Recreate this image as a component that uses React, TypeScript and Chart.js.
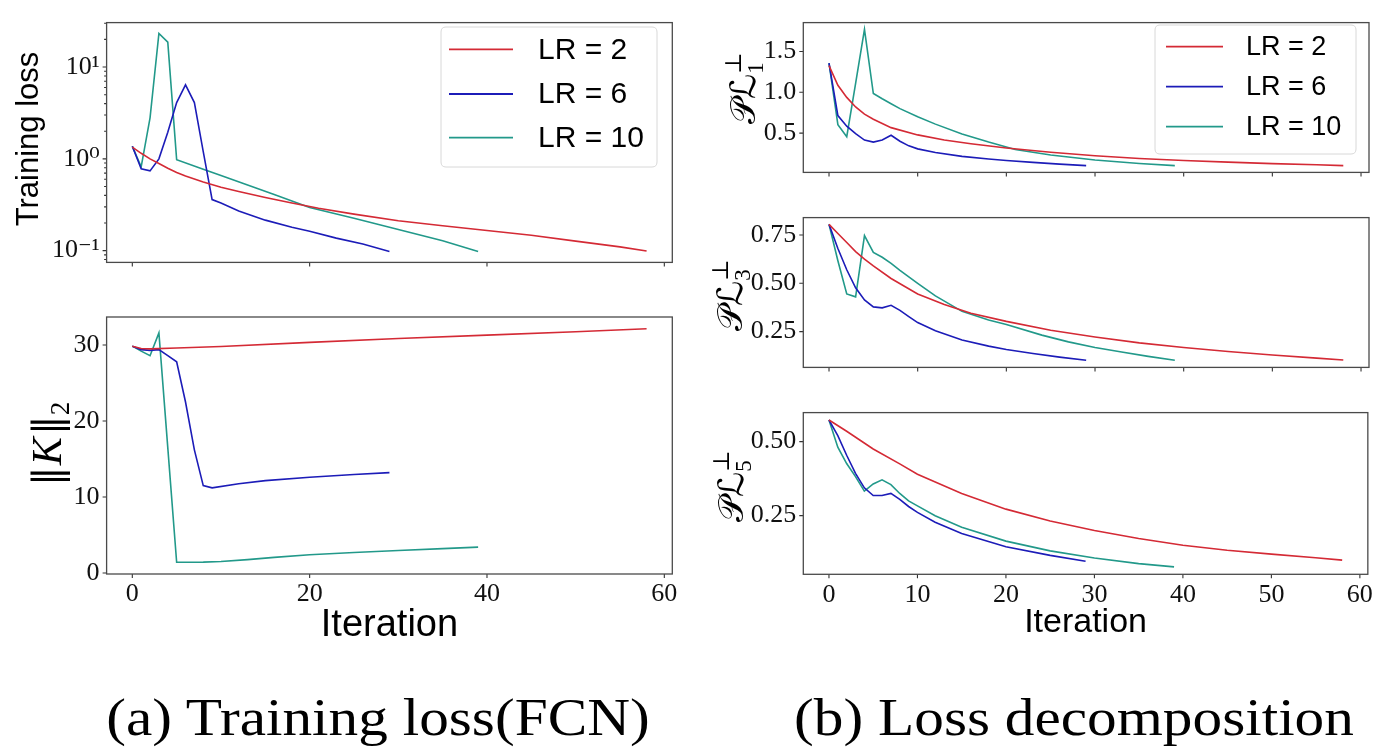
import React, { useEffect, useRef } from "react";
import { Chart, registerables } from "chart.js";
Chart.register(...registerables);

// ---------- series ----------
const seriesLabels = ["LR = 2", "LR = 6", "LR = 10"];
const seriesColors = ["#d42a35", "#1c1cb8", "#22998a"];

// (a) top: training loss (log scale)
const lossItersR = [0, 1, 2, 3, 4, 5, 6, 8, 10, 12, 15, 18, 21, 25, 30, 35, 40, 45, 50, 55, 58];
const lossR = [1.34, 1.15, 1.0, 0.89, 0.79, 0.71, 0.65, 0.56, 0.49, 0.44, 0.38, 0.33, 0.29, 0.25, 0.212, 0.187, 0.166, 0.147, 0.127, 0.11, 0.099];
const lossItersB = [0, 1, 2, 3, 4, 5, 6, 7, 8, 9, 10, 12, 15, 18, 20, 23, 26, 29];
const lossB = [1.37, 0.78, 0.74, 1.0, 1.95, 4.1, 6.4, 4.1, 1.2, 0.36, 0.33, 0.27, 0.215, 0.18, 0.163, 0.137, 0.118, 0.098];
const lossItersT = [0, 1, 2, 3, 4, 5, 8, 10, 13, 16, 20, 25, 30, 35, 39];
const lossT = [1.37, 0.82, 2.8, 23.2, 18.7, 0.98, 0.77, 0.66, 0.52, 0.41, 0.295, 0.225, 0.17, 0.128, 0.098];

// (a) bottom: ||K||_2
const normItersR = [0, 1, 2, 5, 10, 20, 30, 40, 50, 58];
const normR = [29.85, 29.55, 29.5, 29.6, 29.8, 30.35, 30.85, 31.3, 31.75, 32.15];
const normItersB = [0, 1, 2, 3, 4, 5, 6, 7, 8, 9, 12, 15, 20, 25, 29];
const normB = [29.85, 29.4, 29.3, 29.4, 28.6, 27.8, 22.5, 16.2, 11.5, 11.2, 11.75, 12.15, 12.6, 12.95, 13.2];
const normItersT = [0, 1, 2, 3, 4, 5, 8, 10, 13, 16, 20, 25, 30, 35, 39];
const normT = [29.85, 29.2, 28.6, 31.6, 16.5, 1.4, 1.42, 1.5, 1.75, 2.05, 2.4, 2.7, 2.95, 3.2, 3.4];

// (b) PL1
const p1ItersR = [0, 1, 2, 3, 4, 5, 7, 10, 13, 16, 20, 25, 30, 35, 40, 45, 50, 55, 58];
const p1R = [1.326, 1.085, 0.937, 0.82, 0.733, 0.67, 0.567, 0.478, 0.415, 0.37, 0.318, 0.265, 0.222, 0.19, 0.165, 0.145, 0.127, 0.112, 0.102];
const p1ItersB = [0, 1, 2, 3, 4, 5, 6, 7, 8, 9, 10, 12, 15, 18, 20, 23, 26, 29];
const p1B = [1.356, 0.715, 0.585, 0.493, 0.415, 0.39, 0.415, 0.474, 0.4, 0.344, 0.307, 0.262, 0.215, 0.183, 0.165, 0.142, 0.12, 0.102];
const p1ItersT = [0, 1, 2, 3, 4, 5, 6, 7, 8, 10, 12, 15, 18, 21, 25, 30, 35, 39];
const p1T = [1.356, 0.604, 0.456, 1.11, 1.77, 0.985, 0.92, 0.86, 0.8, 0.7, 0.61, 0.49, 0.39, 0.3, 0.232, 0.17, 0.128, 0.102];

// (b) PL3
const p3ItersR = [0, 1, 2, 3, 4, 5, 7, 10, 13, 16, 20, 25, 30, 35, 40, 45, 50, 55, 58];
const p3R = [0.805, 0.758, 0.711, 0.664, 0.625, 0.59, 0.525, 0.445, 0.39, 0.345, 0.303, 0.257, 0.222, 0.192, 0.168, 0.147, 0.129, 0.113, 0.103];
const p3ItersB = [0, 1, 2, 3, 4, 5, 6, 7, 8, 9, 10, 12, 15, 18, 20, 23, 26, 29];
const p3B = [0.805, 0.68, 0.57, 0.477, 0.414, 0.378, 0.373, 0.386, 0.36, 0.328, 0.297, 0.255, 0.207, 0.175, 0.158, 0.137, 0.118, 0.102];
const p3ItersT = [0, 1, 2, 3, 4, 5, 6, 7, 8, 10, 12, 15, 18, 20, 24, 27, 30, 33, 36, 39];
const p3T = [0.805, 0.617, 0.445, 0.43, 0.747, 0.66, 0.635, 0.603, 0.567, 0.5, 0.435, 0.355, 0.31, 0.287, 0.232, 0.197, 0.168, 0.145, 0.122, 0.102];

// (b) PL5
const p5ItersR = [0, 2, 5, 8, 10, 15, 20, 25, 30, 35, 40, 45, 50, 55, 58];
const p5R = [0.573, 0.535, 0.475, 0.425, 0.39, 0.325, 0.272, 0.232, 0.2, 0.173, 0.15, 0.133, 0.12, 0.108, 0.1];
const p5ItersB = [0, 1, 2, 3, 4, 5, 6, 7, 8, 9, 10, 12, 15, 20, 25, 29];
const p5B = [0.573, 0.52, 0.454, 0.393, 0.344, 0.318, 0.318, 0.325, 0.305, 0.281, 0.261, 0.228, 0.19, 0.145, 0.116, 0.096];
const p5ItersT = [0, 1, 2, 3, 4, 5, 6, 7, 8, 9, 10, 12, 15, 20, 25, 30, 35, 39];
const p5T = [0.573, 0.481, 0.426, 0.382, 0.333, 0.357, 0.371, 0.355, 0.325, 0.3, 0.283, 0.25, 0.211, 0.164, 0.131, 0.107, 0.088, 0.077];

// ---------- ticks ----------
const xTicksLeft = [0, 20, 40, 60];
const xTicksRight = [0, 10, 20, 30, 40, 50, 60];
const lossTicks = [0.08, 0.09, 0.1, 0.2, 0.3, 0.4, 0.5, 0.6, 0.7, 0.8, 0.9, 1, 2, 3, 4, 5, 6, 7, 8, 9, 10, 20, 30];
const normTicks = [0, 10, 20, 30];
const p1Ticks = [0.5, 1.0, 1.5];
const p3Ticks = [0.25, 0.5, 0.75];
const p5Ticks = [0.25, 0.5];

const SERIF = '"Liberation Serif", "DejaVu Serif", serif';
const SANS = '"Liberation Sans", Arial, "DejaVu Sans", sans-serif';
const MATH = '"DejaVu Serif", "DejaVu Sans", serif';

type Part = { t: string; font: string; dy?: number; dx?: number; noAdvance?: boolean };
type Label = { parts: Part[]; cx: number; cy: number; base: number };
type Legend = { x0: number; y0: number; x1: number; y1: number; lx0: number; lx1: number; tx: number; ys: number[]; size: number };
type Series = { xs: number[]; ys: number[] };
type Panel = {
  id: string; left: number; top: number; w: number; h: number;
  padTop: number; padRight: number; padBottom: number; yAxisW: number; xAxisH: number;
  log?: boolean; yMin: number; yMax: number; yTicks: number[]; yFmt: (v: number) => string;
  xTicks: number[]; showX: boolean; xTitleSize: number; tickFont: number;
  series: Series[]; legend?: Legend; ylabel: Label;
};

const isPow10 = (v: number) => Math.abs(Math.log10(v) - Math.round(Math.log10(v))) < 1e-9;
const sup: Record<string, string> = { "-": "\u207B", "0": "\u2070", "1": "\u00B9", "2": "\u00B2", "3": "\u00B3" };
const logFmt = (v: number) => {
  if (!isPow10(v)) return "";
  const e = String(Math.round(Math.log10(v)));
  return "10" + e.split("").map((c) => sup[c] || c).join("");
};

const plLabel = (digit: string, cx: number, cy: number): Label => ({
  parts: [
    { t: "\uD835\uDCAB", font: `35px ${MATH}` },
    { t: "\u2112", font: `35px ${MATH}` },
    { t: digit, font: `23px ${SERIF}`, dy: 8, noAdvance: true },
    { t: "\u22A5", font: `23px ${MATH}`, dy: -14 },
  ],
  cx,
  cy,
  base: 11,
});

const panels: Panel[] = [
  {
    id: "a1", left: 0, top: 0, w: 700, h: 285,
    padTop: 10.7, padRight: 27.7, padBottom: 8.3, yAxisW: 106.6, xAxisH: 10,
    log: true, yMin: 0.0745, yMax: 30.5, yTicks: lossTicks, yFmt: logFmt,
    xTicks: xTicksLeft, showX: false, xTitleSize: 38, tickFont: 26,
    series: [{ xs: lossItersR, ys: lossR }, { xs: lossItersB, ys: lossB }, { xs: lossItersT, ys: lossT }],
    legend: { x0: 441, y0: 27, x1: 657, y1: 167, lx0: 449, lx1: 513, tx: 538, ys: [49.3, 94, 137.7], size: 30 },
    ylabel: { parts: [{ t: "Training loss", font: `31px ${SANS}` }], cx: 30, cy: 139, base: 8 },
  },
  {
    id: "a2", left: 0, top: 290, w: 700, h: 370,
    padTop: 27, padRight: 27.7, padBottom: 15, yAxisW: 106.6, xAxisH: 71,
    yMin: -0.14, yMax: 33.69, yTicks: normTicks, yFmt: (v) => String(v),
    xTicks: xTicksLeft, showX: true, xTitleSize: 38, tickFont: 26,
    series: [{ xs: normItersR, ys: normR }, { xs: normItersB, ys: normB }, { xs: normItersT, ys: normT }],
    ylabel: {
      parts: [
        { t: "\u2016", font: `40px ${MATH}` },
        { t: "K", font: `italic 42px ${SERIF}`, dx: 1 },
        { t: "\u2016", font: `40px ${MATH}`, dx: 2 },
        { t: "2", font: `27px ${SERIF}`, dy: 8 },
      ],
      cx: 48, cy: 444, base: 13,
    },
  },
  {
    id: "b1", left: 690, top: 0, w: 688, h: 195,
    padTop: 12.7, padRight: 9, padBottom: 9, yAxisW: 113.3, xAxisH: 10,
    yMin: 0.019, yMax: 1.853, yTicks: p1Ticks, yFmt: (v) => v.toFixed(1),
    xTicks: xTicksRight, showX: false, xTitleSize: 34, tickFont: 26,
    series: [{ xs: p1ItersR, ys: p1R }, { xs: p1ItersB, ys: p1B }, { xs: p1ItersT, ys: p1T }],
    legend: { x0: 1155, y0: 25, x1: 1356, y1: 154, lx0: 1166, lx1: 1223, tx: 1246, ys: [46.7, 86.7, 126.7], size: 27 },
    ylabel: plLabel("1", 744, 88),
  },
  {
    id: "b2", left: 690, top: 195, w: 688, h: 195,
    padTop: 14.3, padRight: 9, padBottom: 5, yAxisW: 113.3, xAxisH: 10,
    yMin: 0.065, yMax: 0.84, yTicks: p3Ticks, yFmt: (v) => v.toFixed(2),
    xTicks: xTicksRight, showX: false, xTitleSize: 34, tickFont: 26,
    series: [{ xs: p3ItersR, ys: p3R }, { xs: p3ItersB, ys: p3B }, { xs: p3ItersT, ys: p3T }],
    ylabel: plLabel("3", 731, 295),
  },
  {
    id: "b3", left: 690, top: 390, w: 688, h: 270,
    padTop: 18.3, padRight: 9, padBottom: 20, yAxisW: 113.3, xAxisH: 65.7,
    yMin: 0.052, yMax: 0.598, yTicks: p5Ticks, yFmt: (v) => v.toFixed(2),
    xTicks: xTicksRight, showX: true, xTitleSize: 34, tickFont: 26,
    series: [{ xs: p5ItersR, ys: p5R }, { xs: p5ItersB, ys: p5B }, { xs: p5ItersT, ys: p5T }],
    ylabel: plLabel("5", 732, 486),
  },
];

function drawLabel(ctx: CanvasRenderingContext2D, lab: Label, ox: number, oy: number) {
  ctx.save();
  ctx.translate(lab.cx - ox, lab.cy - oy);
  ctx.rotate(-Math.PI / 2);
  ctx.fillStyle = "#000";
  ctx.textBaseline = "alphabetic";
  ctx.textAlign = "left";
  const ws = lab.parts.map((pt) => {
    ctx.font = pt.font;
    return ctx.measureText(pt.t).width;
  });
  let x = 0;
  let stack = 0;
  const pos: number[] = [];
  lab.parts.forEach((pt, i) => {
    const dx = pt.dx || 0;
    pos.push(x + dx);
    if (pt.noAdvance) stack = Math.max(stack, ws[i]);
    else {
      x += Math.max(ws[i], stack) + dx;
      stack = 0;
    }
  });
  const total = x;
  lab.parts.forEach((pt, i) => {
    ctx.font = pt.font;
    ctx.fillText(pt.t, pos[i] - total / 2, lab.base + (pt.dy || 0));
  });
  ctx.restore();
}

function decor(p: Panel) {
  return {
    id: "decor_" + p.id,
    afterDraw(chart: any) {
      const ctx: CanvasRenderingContext2D = chart.ctx;
      const a = chart.chartArea;
      const xs = chart.scales.x;
      const ys = chart.scales.y;
      ctx.save();
      ctx.strokeStyle = "#333";
      ctx.lineWidth = 1.1;
      ctx.beginPath();
      p.xTicks.forEach((v) => {
        const px = xs.getPixelForValue(v);
        ctx.moveTo(px, a.bottom);
        ctx.lineTo(px, a.bottom + 4);
      });
      p.yTicks.forEach((v) => {
        if (v < p.yMin || v > p.yMax) return;
        const py = ys.getPixelForValue(v);
        const len = p.log && !isPow10(v) ? 2.5 : 4;
        ctx.moveTo(a.left - len, py);
        ctx.lineTo(a.left, py);
      });
      ctx.stroke();
      ctx.strokeStyle = "#4a4a4a";
      ctx.lineWidth = 1.3;
      ctx.strokeRect(a.left, a.top, a.right - a.left, a.bottom - a.top);

      if (p.legend) {
        const L = p.legend;
        const x0 = L.x0 - p.left, y0 = L.y0 - p.top, x1 = L.x1 - p.left, y1 = L.y1 - p.top;
        const r = 5;
        ctx.beginPath();
        ctx.moveTo(x0 + r, y0);
        ctx.lineTo(x1 - r, y0);
        ctx.quadraticCurveTo(x1, y0, x1, y0 + r);
        ctx.lineTo(x1, y1 - r);
        ctx.quadraticCurveTo(x1, y1, x1 - r, y1);
        ctx.lineTo(x0 + r, y1);
        ctx.quadraticCurveTo(x0, y1, x0, y1 - r);
        ctx.lineTo(x0, y0 + r);
        ctx.quadraticCurveTo(x0, y0, x0 + r, y0);
        ctx.closePath();
        ctx.fillStyle = "rgba(255,255,255,0.85)";
        ctx.fill();
        ctx.strokeStyle = "#d8d8d8";
        ctx.lineWidth = 1;
        ctx.stroke();
        seriesLabels.forEach((lbl, i) => {
          const y = L.ys[i] - p.top;
          ctx.strokeStyle = seriesColors[i];
          ctx.lineWidth = 1.8;
          ctx.beginPath();
          ctx.moveTo(L.lx0 - p.left, y);
          ctx.lineTo(L.lx1 - p.left, y);
          ctx.stroke();
          ctx.fillStyle = "#000";
          ctx.font = `${L.size}px ${SANS}`;
          ctx.textBaseline = "middle";
          ctx.textAlign = "left";
          ctx.fillText(lbl, L.tx - p.left, y + 1);
        });
      }
      drawLabel(ctx, p.ylabel, p.left, p.top);
      ctx.restore();
    },
  };
}

function buildConfig(p: Panel): any {
  return {
    type: "line",
    data: {
      datasets: p.series.map((s, i) => ({
        label: seriesLabels[i],
        data: s.xs.map((x, j) => ({ x, y: s.ys[j] })),
        borderColor: seriesColors[i],
        backgroundColor: seriesColors[i],
        borderWidth: 1.6,
        pointRadius: 0,
        fill: false,
        tension: 0,
      })),
    },
    options: {
      animation: false,
      responsive: false,
      devicePixelRatio: 1,
      layout: { padding: { left: 0, top: p.padTop, right: p.padRight, bottom: p.padBottom } },
      plugins: { legend: { display: false }, tooltip: { enabled: false }, title: { display: false } },
      scales: {
        x: {
          type: "linear",
          min: -2.9,
          max: 60.9,
          afterBuildTicks: (s: any) => {
            s.ticks = p.xTicks.map((v) => ({ value: v }));
          },
          afterFit: (s: any) => {
            s.height = p.xAxisH;
          },
          grid: { display: false, drawTicks: false },
          border: { display: false },
          ticks: {
            autoSkip: false,
            maxRotation: 0,
            padding: 5,
            color: "#111",
            font: { family: SERIF, size: p.tickFont, lineHeight: 1.2 },
            callback: p.showX ? (v: any) => String(v) : () => "",
          },
          title: p.showX
            ? {
                display: true,
                text: "Iteration",
                color: "#000",
                font: { family: SANS, size: p.xTitleSize, lineHeight: 1 },
                padding: { top: 0, bottom: 0 },
              }
            : { display: false },
        },
        y: {
          type: p.log ? "logarithmic" : "linear",
          min: p.yMin,
          max: p.yMax,
          afterBuildTicks: (s: any) => {
            s.ticks = p.yTicks.filter((v) => v >= p.yMin && v <= p.yMax).map((v) => ({ value: v }));
          },
          afterFit: (s: any) => {
            s.width = p.yAxisW;
          },
          grid: { display: false, drawTicks: false },
          border: { display: false },
          ticks: {
            autoSkip: false,
            padding: 7,
            color: "#111",
            font: { family: SERIF, size: p.tickFont, lineHeight: 1.2 },
            callback: (v: any) => p.yFmt(Number(v)),
          },
        },
      },
    },
    plugins: [decor(p)],
  };
}

function ChartPanel({ p }: { p: Panel }) {
  const ref = useRef<HTMLCanvasElement>(null);
  useEffect(() => {
    const chart = new Chart(ref.current as HTMLCanvasElement, buildConfig(p));
    return () => chart.destroy();
  }, [p]);
  return (
    <canvas
      ref={ref}
      width={p.w}
      height={p.h}
      style={{ position: "absolute", left: p.left, top: p.top, width: p.w, height: p.h, display: "block" }}
    />
  );
}

const captionStyle = (cx: number): React.CSSProperties => ({
  position: "absolute",
  left: cx - 450,
  width: 900,
  top: 691.5,
  textAlign: "center",
  fontFamily: SERIF,
  fontSize: 52,
  lineHeight: "52px",
  whiteSpace: "nowrap",
  color: "#000",
  transform: "scaleX(1.14)",
  transformOrigin: "center",
});

export default function App() {
  return (
    <div style={{ position: "absolute", left: 0, top: 0, width: 1378, height: 748, background: "#fff", overflow: "hidden" }}>
      {panels.map((p) => (
        <ChartPanel key={p.id} p={p} />
      ))}
      <div style={captionStyle(378)}>(a) Training loss(FCN)</div>
      <div style={captionStyle(1074)}>(b) Loss decomposition</div>
    </div>
  );
}
